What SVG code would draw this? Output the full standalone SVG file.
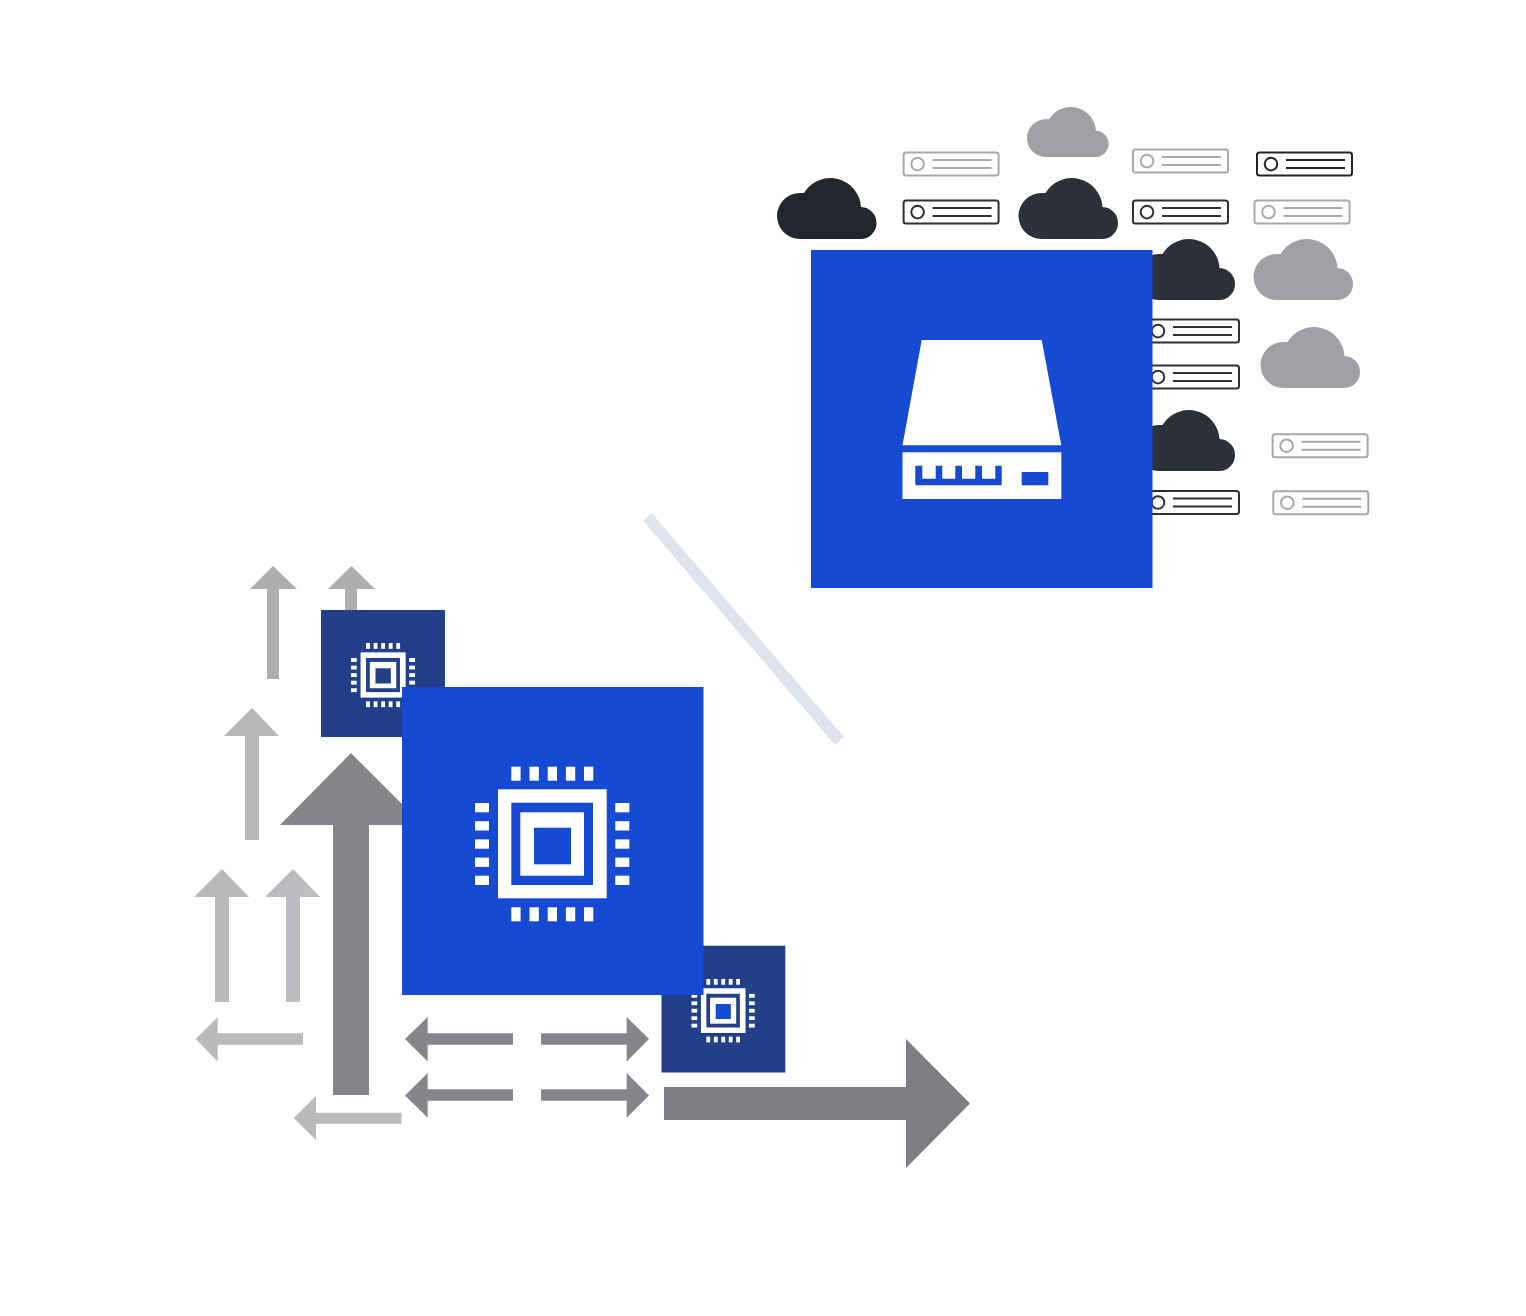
<svg xmlns="http://www.w3.org/2000/svg" width="1526" height="1316" viewBox="0 0 1526 1316">
<style>
.blue{fill:#164ad2}.navy{fill:#223f87}.w{fill:#fff}
.srv{fill:#fff;stroke-width:2;stroke-linejoin:round}
.dk{stroke:#2c3038}.dk0{stroke:#22252b}.lt{stroke:#a8a9ab}
</style>
<defs>
<path id="cloud" d="M23 61A23 23 0 0 1 23 15L27 15A30.700 30.700 0 0 1 84 29A16 16 0 0 1 83 61Z"/>
<g id="server">
<rect x="1" y="1" width="95" height="23" rx="2.5" class="srv"/>
<circle cx="15" cy="12.5" r="6.3" fill="none" stroke-width="2"/>
<path d="M30 8.500H89M30 16.500H89" fill="none" stroke-width="2"/>
</g>
<g id="pins" class="w">
<rect x="36.300" y="0" width="9.300" height="14"/><rect x="54.500" y="0" width="9.300" height="14"/><rect x="72.700" y="0" width="9.300" height="14"/><rect x="90.900" y="0" width="9.300" height="14"/><rect x="109" y="0" width="9.300" height="14"/>
<rect x="36.300" y="140.600" width="9.300" height="14"/><rect x="54.500" y="140.600" width="9.300" height="14"/><rect x="72.700" y="140.600" width="9.300" height="14"/><rect x="90.900" y="140.600" width="9.300" height="14"/><rect x="109" y="140.600" width="9.300" height="14"/>
<rect x="0" y="36.300" width="14" height="9.300"/><rect x="0" y="54.500" width="14" height="9.300"/><rect x="0" y="72.700" width="14" height="9.300"/><rect x="0" y="90.900" width="14" height="9.300"/><rect x="0" y="109" width="14" height="9.300"/>
<rect x="140.300" y="36.300" width="14" height="9.300"/><rect x="140.300" y="54.500" width="14" height="9.300"/><rect x="140.300" y="72.700" width="14" height="9.300"/><rect x="140.300" y="90.900" width="14" height="9.300"/><rect x="140.300" y="109" width="14" height="9.300"/>
<rect x="23" y="22.600" width="108.700" height="109"/>
</g>
</defs>
<rect width="1526" height="1316" fill="#fff"/>

<g id="connectors">
<path id="divider" d="M643.500 521L651.500 513L844 737L835 745Z" fill="#dfe3ee"/>
<path d="M273 566L297 589H279V679H267V589H250Z" fill="#adaeb0"/>
<path d="M351.500 566L375 589H357V615H345V589H328Z" fill="#adaeb0"/>
<path d="M252 708L279 736H259V840H245V736H224Z" fill="#b5b6b8"/>
<path d="M222 869L249 897H229V1002H215V897H194Z" fill="#b9babc"/>
<path d="M293 869L320 897H300V1002H286V897H265Z" fill="#bcbdc0"/>
<path d="M351 753L423 825H369V1095H333V825H280Z" fill="#85868a"/>
<path d="M195.700 1039L217.700 1017V1033.300H303V1044.700H217.700V1061.500Z" fill="#b9babc"/>
<path d="M293.700 1118L316 1096V1112.700H401.500V1123.700H316V1140Z" fill="#b9babc"/>
<path d="M405 1039L427.700 1017V1033.300H513V1044.700H427.700V1061.500Z" fill="#85868a"/>
<path d="M405 1095.500L427.700 1073V1089.300H513V1100.700H427.700V1117.700Z" fill="#85868a"/>
<path d="M649 1039L626.700 1017V1033.300H541V1044.700H626.700V1061.500Z" fill="#85868a"/>
<path d="M649 1095.500L626.700 1073V1089.300H541V1100.700H626.700V1117.700Z" fill="#85868a"/>
<path d="M970 1103.500L906 1039V1087H664V1120H906V1168Z" fill="#7d7e82"/>
</g>

<g id="cloud-1"><use href="#cloud" x="777" y="178" fill="#22252b"/></g>
<g id="cloud-2"><use href="#cloud" transform="translate(1027 107) scale(.82)" fill="#a0a1a4"/></g>
<g id="cloud-3"><use href="#cloud" x="1018.500" y="178" fill="#2c3038"/></g>
<g id="cloud-4"><use href="#cloud" x="1135.500" y="239" fill="#2c3038"/></g>
<g id="cloud-5"><use href="#cloud" x="1253.500" y="239" fill="#a0a1a4"/></g>
<g id="cloud-6"><use href="#cloud" x="1260.500" y="327" fill="#a0a1a4"/></g>
<g id="cloud-7"><use href="#cloud" x="1135.500" y="410" fill="#2c3038"/></g>

<g id="server-1" class="lt"><use href="#server" x="902.600" y="151.600"/></g>
<g id="server-2" class="dk"><use href="#server" x="902.600" y="199.600"/></g>
<g id="server-3" class="lt"><use href="#server" x="1132" y="148.600"/></g>
<g id="server-4" class="dk"><use href="#server" x="1132" y="199.600"/></g>
<g id="server-5" class="dk0"><use href="#server" x="1256" y="151.600"/></g>
<g id="server-6" class="lt"><use href="#server" x="1253.500" y="199.600"/></g>
<g id="server-7" class="dk"><use href="#server" x="1143" y="318.600"/></g>
<g id="server-8" class="dk"><use href="#server" x="1143" y="364.600"/></g>
<g id="server-9" class="dk"><use href="#server" x="1143" y="490"/></g>
<g id="server-10" class="lt"><use href="#server" x="1271.600" y="433.200"/></g>
<g id="server-11" class="lt"><use href="#server" x="1272.300" y="490.200"/></g>

<g id="appliance">
<rect class="blue" x="811" y="250" width="341.500" height="338"/>
<path class="w" d="M921.700 340H1041.700L1061.300 445.300H902.500Z"/>
<rect class="w" x="902.500" y="452.300" width="158.800" height="46.700"/>
<path class="blue" d="M915.300 465.700H922.300V478.700H935.700V465.700H942.300V478.700H955.300V465.700H962V478.700H975.300V465.700H982V478.700H995.300V465.700H1001.700V485.300H915.300Z"/>
<rect class="blue" x="1021.700" y="472" width="26.600" height="13.300"/>
</g>

<g id="chip-small-1">
<rect class="navy" x="321" y="610" width="124" height="127"/>
<g transform="translate(351 643) scale(.415)">
<use href="#pins"/>
<rect class="navy" x="36.300" y="36" width="81.700" height="82.300"/>
<rect class="w" x="45.300" y="45.600" width="63.700" height="63.400"/>
<rect class="navy" x="59" y="61" width="37" height="36.600"/>
</g>
</g>

<g id="chip-small-2">
<rect class="navy" x="661.500" y="945.700" width="123.800" height="126.800"/>
<g transform="translate(691.500 979) scale(.41)">
<use href="#pins"/>
<rect class="navy" x="36.300" y="36" width="81.700" height="82.300"/>
<rect class="w" x="45.300" y="45.600" width="63.700" height="63.400"/>
<rect class="blue" x="59" y="61" width="37" height="36.600"/>
</g>
</g>

<g id="chip-large">
<rect class="blue" x="402" y="687" width="301.500" height="308"/>
<g transform="translate(475 766.700)">
<use href="#pins"/>
<rect class="blue" x="36.300" y="36" width="81.700" height="82.300"/>
<rect class="w" x="45.300" y="45.600" width="63.700" height="63.400"/>
<rect class="blue" x="59" y="61" width="37" height="36.600"/>
</g>
</g>
</svg>
